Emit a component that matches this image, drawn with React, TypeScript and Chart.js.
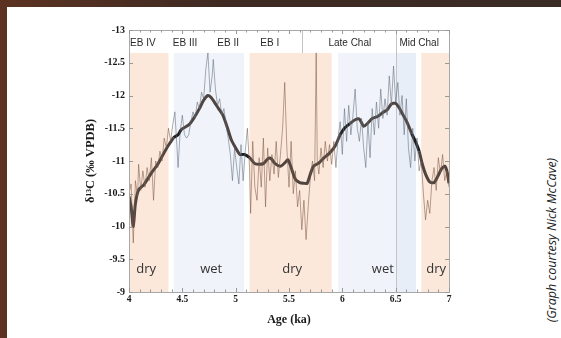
import React, { useEffect, useRef } from "react";
import { Chart, registerables } from "chart.js";
Chart.register(...registerables);

// ---- data ----
const smoothAges = [4.0, 4.02, 4.04, 4.06, 4.09, 4.14, 4.18, 4.22, 4.27, 4.32, 4.37, 4.42, 4.46, 4.49, 4.56, 4.61, 4.66, 4.7, 4.74, 4.77, 4.8, 4.84, 4.88, 4.92, 4.96, 5.0, 5.04, 5.08, 5.13, 5.18, 5.22, 5.26, 5.3, 5.33, 5.37, 5.42, 5.46, 5.49, 5.52, 5.56, 5.6, 5.64, 5.67, 5.7, 5.73, 5.78, 5.83, 5.88, 5.93, 5.98, 6.02, 6.07, 6.12, 6.16, 6.2, 6.24, 6.28, 6.33, 6.38, 6.42, 6.46, 6.5, 6.53, 6.57, 6.61, 6.65, 6.69, 6.72, 6.75, 6.78, 6.82, 6.86, 6.89, 6.93, 6.96, 6.98, 7.0];
const smoothValues = [-10.46, -10.3, -10.0, -10.35, -10.56, -10.64, -10.74, -10.84, -10.95, -11.1, -11.24, -11.36, -11.4, -11.48, -11.55, -11.66, -11.8, -11.93, -12.0, -11.97, -11.9, -11.8, -11.7, -11.52, -11.32, -11.2, -11.1, -11.1, -11.05, -10.96, -10.95, -10.96, -11.03, -11.04, -10.96, -10.92, -10.97, -11.02, -10.9, -10.72, -10.67, -10.66, -10.66, -10.8, -10.92, -10.97, -11.05, -11.12, -11.22, -11.4, -11.5, -11.57, -11.63, -11.64, -11.53, -11.58, -11.65, -11.68, -11.74, -11.78, -11.87, -11.88, -11.82, -11.7, -11.58, -11.42, -11.28, -11.15, -10.95, -10.8, -10.68, -10.67, -10.75, -10.88, -10.92, -10.85, -10.66];

const noisyAges = [4.0, 4.02, 4.04, 4.05, 4.06, 4.08, 4.09, 4.11, 4.13, 4.15, 4.17, 4.19, 4.21, 4.23, 4.25, 4.27, 4.29, 4.31, 4.33, 4.35, 4.37, 4.39, 4.41, 4.43, 4.45, 4.46, 4.48, 4.5, 4.52, 4.54, 4.56, 4.58, 4.6, 4.62, 4.64, 4.66, 4.68, 4.7, 4.72, 4.74, 4.76, 4.78, 4.79, 4.81, 4.83, 4.85, 4.87, 4.89, 4.91, 4.93, 4.95, 4.97, 4.99, 5.01, 5.03, 5.05, 5.07, 5.09, 5.11, 5.13, 5.14, 5.16, 5.18, 5.2, 5.22, 5.24, 5.26, 5.28, 5.3, 5.32, 5.34, 5.36, 5.38, 5.4, 5.42, 5.44, 5.46, 5.48, 5.5, 5.52, 5.54, 5.56, 5.58, 5.6, 5.62, 5.64, 5.66, 5.68, 5.7, 5.72, 5.74, 5.755, 5.765, 5.78, 5.8, 5.82, 5.84, 5.86, 5.88, 5.9, 5.92, 5.94, 5.96, 5.98, 6.0, 6.02, 6.04, 6.06, 6.08, 6.1, 6.12, 6.14, 6.16, 6.18, 6.2, 6.22, 6.24, 6.26, 6.28, 6.3, 6.32, 6.34, 6.36, 6.38, 6.4, 6.42, 6.44, 6.46, 6.48, 6.5, 6.52, 6.54, 6.56, 6.58, 6.6, 6.62, 6.64, 6.66, 6.68, 6.7, 6.72, 6.74, 6.76, 6.78, 6.8, 6.82, 6.84, 6.86, 6.88, 6.9, 6.92, 6.94, 6.96, 6.98, 7.0];
const noisyValues = [-10.5, -10.65, -9.75, -10.2, -10.7, -10.45, -10.95, -10.55, -10.85, -10.6, -10.9, -10.7, -11.05, -10.4, -11.0, -10.9, -11.15, -11.0, -11.35, -11.2, -11.5, -11.3, -11.55, -11.75, -11.2, -10.9, -11.45, -11.7, -11.4, -11.35, -11.4, -11.6, -11.75, -11.65, -11.9, -11.8, -12.05, -11.95, -12.4, -12.65, -12.05, -12.3, -12.55, -12.1, -11.85, -11.95, -11.7, -11.8, -11.55, -11.35, -11.1, -10.7, -11.2, -10.9, -10.65, -11.25, -10.7, -11.15, -11.5, -10.9, -10.2, -11.3, -10.6, -10.4, -11.05, -10.6, -11.35, -10.3, -11.2, -10.7, -11.1, -10.8, -11.3, -10.75, -11.1, -11.5, -12.2, -11.2, -10.6, -11.3, -10.5, -10.85, -10.3, -10.55, -9.95, -10.4, -9.8, -10.3, -10.75, -11.0, -10.7, -12.65, -11.0, -10.8, -11.2, -10.9, -11.3, -11.0, -11.25, -10.95, -11.3, -10.9, -11.35, -11.6, -11.1, -11.8, -11.3, -11.85, -11.4, -11.7, -12.1, -11.5, -11.3, -11.65, -11.2, -10.9, -11.6, -11.05, -11.8, -11.4, -11.9, -11.5, -12.1, -11.65, -11.95, -11.7, -12.3, -11.85, -12.45, -11.9, -12.2, -11.7, -12.0, -11.4, -11.95, -11.2, -10.9, -11.5, -11.0, -11.35, -10.85, -11.0, -10.5, -10.1, -10.4, -10.2, -10.7, -10.9, -10.55, -11.05, -10.8, -11.1, -10.7, -10.85, -10.6];

const bandStarts = [4.0, 4.42, 5.13, 5.96, 6.5, 6.74];
const bandEnds = [4.37, 5.08, 5.9, 6.5, 6.69, 7.0];
const bandKinds = ["dry", "wet", "dry", "wet", "wet2", "dry"];
const bandTop = -12.65;

const periodLabels = ["EB IV", "EB III", "EB II", "EB I", "Late Chal", "Mid Chal"];
const periodCenters = [4.13, 4.525, 4.93, 5.32, 6.07, 6.72];
const periodDividers = [5.62, 6.5];

const climateLabels = ["dry", "wet", "dry", "wet", "dry"];
const climateCenters = [4.16, 4.77, 5.53, 6.38, 6.88];
const climateLevel = -9.34;

const darkRanges = [[4.42, 4.49], [5.04, 5.13], [5.96, 6.04], [6.62, 6.72]];

const xMin = 4, xMax = 7, yMin = -13, yMax = -9;

const bandColors: Record<string, string> = {
  dry: "#fce8db",
  wet: "#f0f4fa",
  wet2: "#e8eef7",
};

function inDry(x: number) {
  for (let i = 0; i < bandStarts.length; i++) {
    if (bandKinds[i] === "dry" && x >= bandStarts[i] - 0.03 && x < bandEnds[i] + 0.03) return true;
  }
  return false;
}
function inDark(x: number) {
  return darkRanges.some(([a, b]) => x >= a && x < b);
}

const decorPlugin = {
  id: "decor",
  beforeDatasetsDraw(chart: any) {
    const { ctx, chartArea, scales } = chart;
    const xs = scales.x, ys = scales.y;
    ctx.save();
    const yt = ys.getPixelForValue(bandTop);
    for (let i = 0; i < bandStarts.length; i++) {
      const x0 = xs.getPixelForValue(bandStarts[i]);
      const x1 = xs.getPixelForValue(bandEnds[i]);
      ctx.fillStyle = bandColors[bandKinds[i]];
      ctx.fillRect(x0, yt, x1 - x0, chartArea.bottom - yt);
    }
    ctx.strokeStyle = "#c4c4c4";
    ctx.lineWidth = 1;
    periodDividers.forEach((d, i) => {
      const x = Math.round(xs.getPixelForValue(d)) + 0.5;
      ctx.beginPath();
      ctx.moveTo(x, chartArea.top);
      ctx.lineTo(x, i === 0 ? yt : chartArea.bottom);
      ctx.stroke();
    });
    ctx.restore();
  },
  afterDraw(chart: any) {
    const { ctx, chartArea, scales } = chart;
    const xs = scales.x, ys = scales.y;
    ctx.save();
    ctx.strokeStyle = "#a8a8a8";
    ctx.lineWidth = 1;
    ctx.strokeRect(Math.round(chartArea.left) + 0.5, Math.round(chartArea.top) + 0.5,
      Math.round(chartArea.right - chartArea.left), Math.round(chartArea.bottom - chartArea.top));
    ctx.strokeStyle = "#999";
    for (let i = 0; i <= 30; i++) {
      const v = xMin + i * 0.1;
      const x = Math.round(xs.getPixelForValue(v)) + 0.5;
      const len = i % 5 === 0 ? 4 : 2.5;
      ctx.beginPath();
      ctx.moveTo(x, chartArea.top);
      ctx.lineTo(x, chartArea.top + len);
      ctx.moveTo(x, chartArea.bottom);
      ctx.lineTo(x, chartArea.bottom - len);
      ctx.stroke();
    }
    for (let i = 0; i <= 8; i++) {
      const v = yMin + i * 0.5;
      const y = Math.round(ys.getPixelForValue(v)) + 0.5;
      ctx.beginPath();
      ctx.moveTo(chartArea.left, y);
      ctx.lineTo(chartArea.left + 4, y);
      ctx.moveTo(chartArea.right, y);
      ctx.lineTo(chartArea.right - 4, y);
      ctx.stroke();
    }
    ctx.fillStyle = "#2a2a2a";
    ctx.font = "10px 'Liberation Sans', Arial, sans-serif";
    ctx.textAlign = "center";
    ctx.textBaseline = "middle";
    periodLabels.forEach((t, i) => {
      ctx.fillText(t, xs.getPixelForValue(periodCenters[i]), ys.getPixelForValue(-12.8));
    });
    ctx.font = "13px 'Open Sans', sans-serif";
    ctx.fillStyle = "#333";
    climateLabels.forEach((t, i) => {
      ctx.fillText(t, xs.getPixelForValue(climateCenters[i]), ys.getPixelForValue(climateLevel));
    });
    ctx.restore();
  },
};

const fmt = (v: any) => `${+(+v).toFixed(2)}`;

export default function App() {
  const ref = useRef<HTMLCanvasElement | null>(null);
  useEffect(() => {
    if (!ref.current) return;
    const noisy = noisyAges.map((a, i) => ({ x: a, y: noisyValues[i] }));
    const smooth = smoothAges.map((a, i) => ({ x: a, y: smoothValues[i] }));
    const chart = new Chart(ref.current, {
      type: "line",
      data: {
        datasets: [
          {
            data: noisy,
            borderWidth: 1,
            pointRadius: 0,
            tension: 0,
            borderColor: "rgba(110,100,95,0.55)",
            segment: {
              borderColor: (c: any) => (inDry(c.p0.parsed.x) ? "rgba(125,90,70,0.55)" : "rgba(95,105,120,0.55)"),
            },
          },
          {
            data: smooth,
            borderWidth: 3,
            pointRadius: 0,
            tension: 0.25,
            borderColor: "#4e4440",
            segment: {
              borderColor: (c: any) => (inDark(c.p0.parsed.x) ? "#1c1c1c" : "#4e4440"),
            },
          },
        ],
      },
      options: {
        responsive: false,
        animation: false,
        layout: { padding: { left: 0, top: 30, right: 51, bottom: 0 } },
        plugins: { legend: { display: false }, tooltip: { enabled: false } },
        scales: {
          x: {
            type: "linear",
            min: xMin,
            max: xMax,
            grid: { display: false, drawTicks: false },
            border: { display: false },
            ticks: {
              stepSize: 0.5,
              padding: 2,
              color: "#1a1a1a",
              callback: fmt,
              font: { family: "'Liberation Serif', 'Times New Roman', serif", size: 9.5, weight: "bold" },
            },
            title: {
              display: true,
              text: "Age (ka)",
              color: "#1a1a1a",
              font: { family: "'Liberation Serif', 'Times New Roman', serif", size: 12, weight: "bold" },
              padding: { top: 0, bottom: 10.8 },
            },
            afterFit: (s: any) => {
              s.height = 46;
            },
          },
          y: {
            type: "linear",
            min: yMin,
            max: yMax,
            reverse: true,
            grid: { display: false, drawTicks: false },
            border: { display: false },
            ticks: {
              stepSize: 0.5,
              padding: 4,
              color: "#1a1a1a",
              callback: fmt,
              font: { family: "'Liberation Serif', 'Times New Roman', serif", size: 10, weight: "bold" },
            },
            title: {
              display: true,
              text: "δ¹³C (‰ VPDB)",
              color: "#1a1a1a",
              font: { family: "'Liberation Serif', 'Times New Roman', serif", size: 12.5, weight: "bold" },
              padding: { top: 83.5, bottom: 0 },
            },
            afterFit: (s: any) => {
              s.width = 129;
            },
          },
        },
      },
      plugins: [decorPlugin],
    } as any);
    return () => chart.destroy();
  }, []);

  return (
    <div
      style={{
        position: "fixed",
        left: 0,
        top: 0,
        width: 561,
        height: 338,
        overflow: "hidden",
        background: "linear-gradient(90deg, #5c3322 0%, #3e2a22 40%, #3a2b25 100%)",
      }}
    >
      <div style={{ position: "absolute", left: 7, top: 7, right: 0, bottom: 0, background: "#ffffff" }} />
      <canvas
        ref={ref}
        width={500}
        height={338}
        style={{ position: "absolute", left: 0, top: 0, width: 500, height: 338, display: "block" }}
      />
      <div
        style={{
          position: "absolute",
          left: 551,
          top: 240,
          transform: "translate(-50%, -50%) rotate(-90deg)",
          whiteSpace: "nowrap",
          fontFamily: "'Open Sans', sans-serif",
          fontStyle: "italic",
          fontSize: 12.5,
          color: "#222",
        }}
      >
        (Graph courtesy Nick McCave)
      </div>
    </div>
  );
}
